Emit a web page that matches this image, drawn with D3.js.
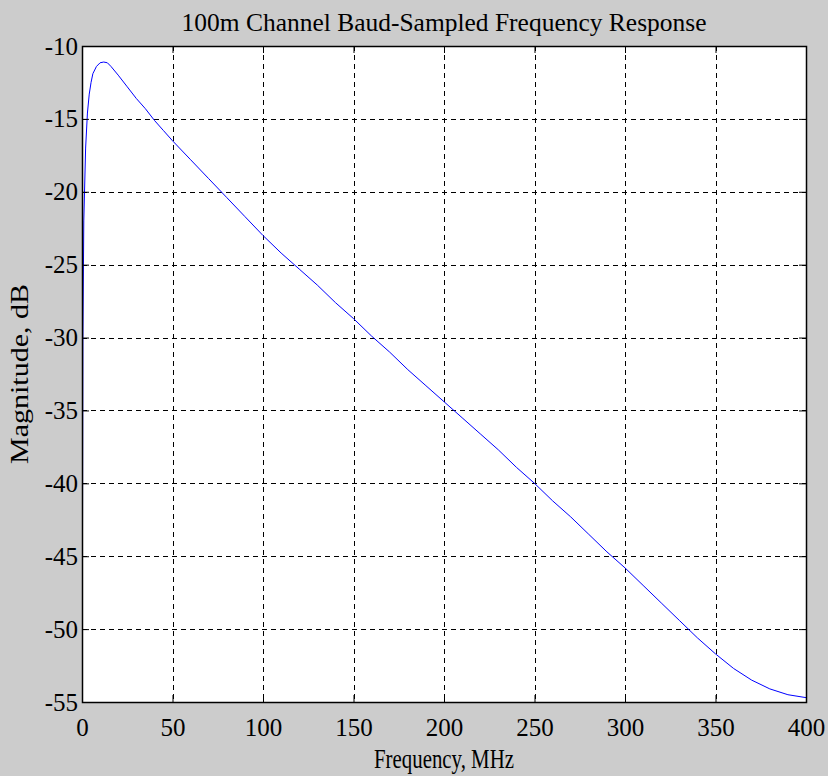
<!DOCTYPE html>
<html>
<head>
<meta charset="utf-8">
<script src="https://cdn.jsdelivr.net/npm/d3@7"></script>
<style>
  body { margin: 0; background: #cccccc; }
  svg { display: block; }
  text { font-family: "Liberation Serif", "Times New Roman", serif; fill: #000; }
</style>
</head>
<body>
<div id="chart"></div>
<script>
// frequency in MHz and magnitude in dB
const freqMHz = [0, 0.5, 1, 2, 3, 4, 5, 6, 8, 10, 12, 14, 16, 20, 25, 30, 35, 40, 45, 50,
    60, 70, 80, 90, 100, 110, 120, 130, 140, 150, 160, 170, 180, 190, 200,
    210, 220, 230, 240, 250, 260, 270, 280, 290, 300, 310, 320, 330, 340, 350,
    360, 370, 380, 390, 400];
const magnitudeDb = [-60, -30, -22, -17, -14.6, -13.3, -12.5, -11.9, -11.4, -11.15, -11.1, -11.15, -11.4, -12.0, -12.8, -13.6, -14.3, -15.1, -15.8, -16.5,
    -17.8, -19.1, -20.4, -21.7, -23.0, -24.2, -25.3, -26.4, -27.6, -28.7, -29.9, -31.0, -32.2, -33.3, -34.4,
    -35.5, -36.6, -37.7, -38.9, -40.0, -41.2, -42.3, -43.5, -44.7, -45.8, -47.0, -48.2, -49.4, -50.6, -51.7,
    -52.7, -53.5, -54.1, -54.5, -54.7];
const xTicks = [0, 50, 100, 150, 200, 250, 300, 350, 400];
const yTicks = [-10, -15, -20, -25, -30, -35, -40, -45, -50, -55];

const width = 828, height = 776;
const margin = { top: 46, right: 22, bottom: 74, left: 82 };
const innerW = width - margin.left - margin.right;
const innerH = height - margin.top - margin.bottom;

const svg = d3.select("#chart").append("svg")
    .attr("width", width)
    .attr("height", height);

svg.append("rect").attr("width", width).attr("height", height).attr("fill", "#cccccc");

const x = d3.scaleLinear().domain([0, 400]).range([0, innerW]);
const y = d3.scaleLinear().domain([-55, -10]).range([innerH, 0]);

const g = svg.append("g").attr("transform", `translate(${margin.left},${margin.top})`);

g.append("rect").attr("width", innerW).attr("height", innerH).attr("fill", "#fff");

g.append("clipPath").attr("id", "clip")
    .append("rect").attr("width", innerW).attr("height", innerH);

// grid
g.append("g").selectAll("line")
    .data(xTicks.slice(1, -1))
    .join("line")
    .attr("x1", d => Math.round(x(d)) + 0.5).attr("x2", d => Math.round(x(d)) + 0.5)
    .attr("y1", 0).attr("y2", innerH)
    .attr("stroke", "#000").attr("stroke-width", 1).attr("stroke-dasharray", "5,4");

g.append("g").selectAll("line")
    .data(yTicks.slice(1, -1).concat([-10]))
    .join("line")
    .attr("y1", d => Math.round(y(d)) + 0.5).attr("y2", d => Math.round(y(d)) + 0.5)
    .attr("x1", 0).attr("x2", innerW)
    .attr("stroke", "#000").attr("stroke-width", 1).attr("stroke-dasharray", "5,4");

// curve
const line = d3.line().x((d, i) => x(freqMHz[i])).y(d => y(d));
g.append("path")
    .datum(magnitudeDb)
    .attr("clip-path", "url(#clip)")
    .attr("d", line)
    .attr("fill", "none")
    .attr("stroke", "#0000ff")
    .attr("stroke-width", 1);

// axes (inward ticks, box), plain hyphen minus like the original
const tickLen = 7;
const fmt = d => String(d);
g.append("g").attr("transform", `translate(0,${innerH})`)
    .call(d3.axisBottom(x).tickValues(xTicks).tickSize(-tickLen).tickPadding(16).tickFormat(fmt))
    .call(a => a.select(".domain").remove())
    .call(a => a.selectAll("text").attr("font-size", 25).attr("dy", "0.71em"));

g.append("g")
    .call(d3.axisTop(x).tickValues(xTicks).tickSize(-tickLen).tickFormat(""))
    .call(a => a.select(".domain").remove());

g.append("g")
    .call(d3.axisLeft(y).tickValues(yTicks).tickSize(-tickLen).tickPadding(4).tickFormat(fmt))
    .call(a => a.select(".domain").remove())
    .call(a => a.selectAll("text").attr("font-size", 25));

g.append("g").attr("transform", `translate(${innerW},0)`)
    .call(d3.axisRight(y).tickValues(yTicks).tickSize(-tickLen).tickFormat(""))
    .call(a => a.select(".domain").remove());

g.append("rect")
    .attr("x", 0.5).attr("y", 0.5)
    .attr("width", innerW).attr("height", innerH)
    .attr("fill", "none").attr("stroke", "#000").attr("stroke-width", 1.5);

// labels
svg.append("text")
    .attr("x", margin.left + innerW / 2).attr("y", 31)
    .attr("text-anchor", "middle").attr("font-size", 26)
    .attr("textLength", 525).attr("lengthAdjust", "spacingAndGlyphs")
    .text("100m Channel Baud-Sampled Frequency Response");

svg.append("text")
    .attr("x", margin.left + innerW / 2).attr("y", 768)
    .attr("text-anchor", "middle").attr("font-size", 27)
    .attr("textLength", 140).attr("lengthAdjust", "spacingAndGlyphs")
    .text("Frequency, MHz");

svg.append("text")
    .attr("transform", `translate(28,${margin.top + innerH / 2}) rotate(-90)`)
    .attr("text-anchor", "middle").attr("font-size", 26)
    .attr("textLength", 180).attr("lengthAdjust", "spacingAndGlyphs")
    .text("Magnitude, dB");
</script>
</body>
</html>
